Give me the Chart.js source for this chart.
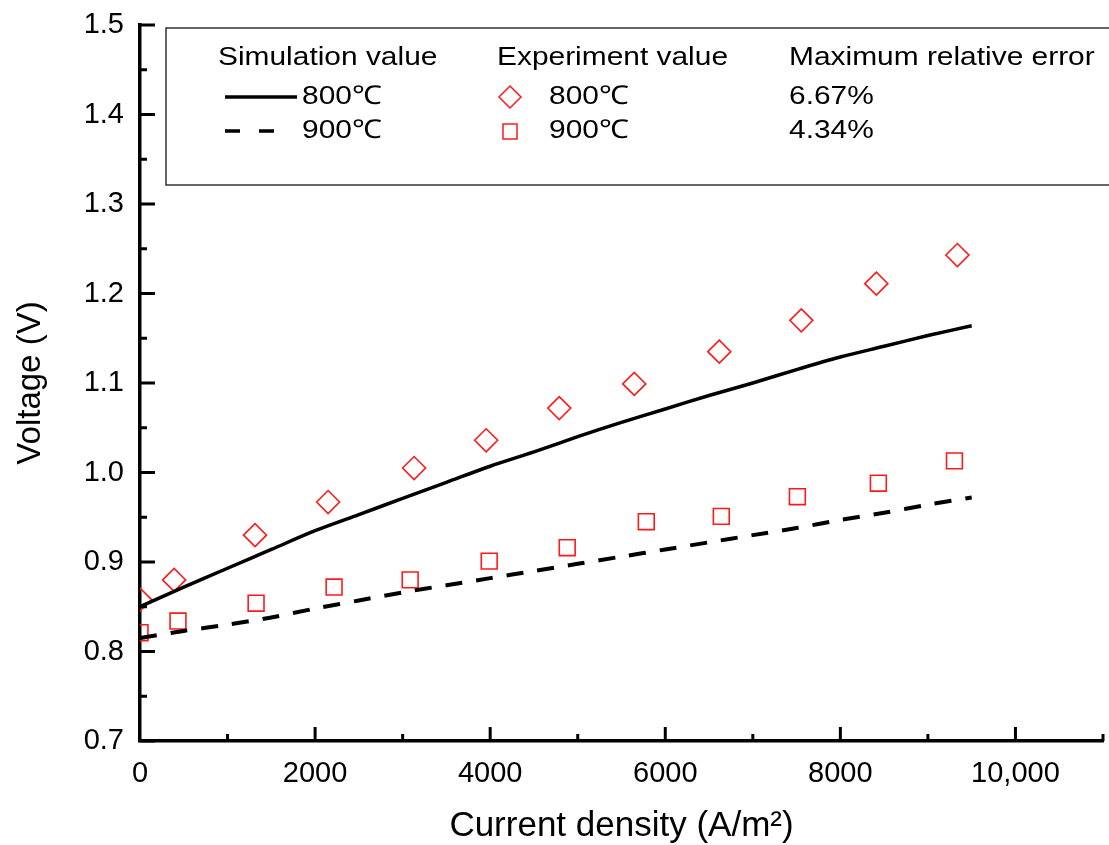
<!DOCTYPE html>
<html lang="en">
<head>
    <meta charset="UTF-8"/>
    <title>Voltage vs current density</title>
    <script src="https://cdn.jsdelivr.net/npm/chart.js"></script>
    <style>
        html, body { margin: 0; padding: 0; background: #fff; }
        #wrap { width: 1109px; height: 845px; }
    </style>
</head>
<body>
    <div id="wrap"><canvas id="ivChart" width="1109" height="845"></canvas></div>
    <script>
        // simulation curves (A/m2 -> V)
        const simCurrent = [0, 500, 1000, 1500, 2000, 2500, 3000, 3500, 4000, 4500, 5000,
                            5500, 6000, 6500, 7000, 7500, 8000, 8500, 9000, 9500];
        const sim800 = [0.850, 0.872, 0.893, 0.914, 0.935, 0.953, 0.971, 0.989, 1.007, 1.023,
                        1.040, 1.056, 1.071, 1.086, 1.100, 1.115, 1.129, 1.141, 1.153, 1.164];
        const sim900 = [0.815, 0.823, 0.830, 0.838, 0.848, 0.857, 0.866, 0.874, 0.882, 0.890,
                        0.898, 0.906, 0.914, 0.922, 0.930, 0.938, 0.947, 0.955, 0.964, 0.972];

        // experiment points
        const expCurrent800 = [0, 390, 1314, 2149, 3131, 3954, 4789, 5646, 6617, 7554, 8411, 9337];
        const exp800 = [0.858, 0.880, 0.930, 0.967, 1.005, 1.036, 1.072, 1.099, 1.135, 1.170, 1.211, 1.243];
        const expCurrent900 = [0, 434, 1326, 2217, 3086, 3989, 4880, 5783, 6640, 7509, 8434, 9303];
        const exp900 = [0.821, 0.834, 0.854, 0.872, 0.880, 0.901, 0.916, 0.945, 0.951, 0.973, 0.988, 1.013];

        const legendHead = ['Simulation value', 'Experiment value', 'Maximum relative error'];
        const tempLabels = ['800\u2103', '900\u2103'];
        const maxErrors = ['6.67%', '4.34%'];

        const pts = (xs, ys) => xs.map((x, i) => ({ x: x, y: ys[i] }));
        const RED = '#ff1a1a';
        const FONT = '"Liberation Sans", Arial, sans-serif';

        // ticks pointing inward, major + minor
        const innerTicks = {
            id: 'innerTicks',
            afterDatasetsDraw(chart) {
                const { ctx, chartArea, scales } = chart;
                ctx.save();
                ctx.strokeStyle = '#000';
                ctx.lineWidth = 3;
                for (let v = 1000; v <= 11000; v += 1000) {
                    const px = scales.x.getPixelForValue(v);
                    const len = (v % 2000 === 0) ? 14 : 7;
                    ctx.beginPath();
                    ctx.moveTo(px, chartArea.bottom);
                    ctx.lineTo(px, chartArea.bottom - len);
                    ctx.stroke();
                }
                for (let i = 0; i <= 16; i++) {
                    const v = 0.7 + i * 0.05;
                    const py = scales.y.getPixelForValue(v);
                    const len = (i % 2 === 0) ? 15 : 7;
                    ctx.beginPath();
                    ctx.moveTo(chartArea.left, py);
                    ctx.lineTo(chartArea.left + len, py);
                    ctx.stroke();
                }
                ctx.restore();
            }
        };

        // boxed three-column legend
        const boxLegend = {
            id: 'boxLegend',
            afterDraw(chart) {
                const ctx = chart.ctx;
                ctx.save();
                ctx.fillStyle = '#fff';
                ctx.fillRect(166, 28, 960, 157);
                ctx.strokeStyle = '#333';
                ctx.lineWidth = 1.5;
                ctx.strokeRect(166, 28, 960, 157);

                ctx.fillStyle = '#000';
                ctx.textBaseline = 'middle';
                const txt = (s, x, y) => {
                    ctx.save();
                    ctx.translate(x, y);
                    ctx.scale(1.15, 1);
                    ctx.fillText(s, 0, 0);
                    ctx.restore();
                };
                ctx.font = '26px ' + FONT;
                txt(legendHead[0], 218, 58);
                txt(legendHead[1], 497, 58);
                txt(legendHead[2], 789, 58);
                txt(tempLabels[0], 302, 97);
                txt(tempLabels[1], 302, 131);
                txt(tempLabels[0], 549, 97);
                txt(tempLabels[1], 549, 131);
                txt(maxErrors[0], 789, 97);
                txt(maxErrors[1], 789, 131);

                ctx.strokeStyle = '#000';
                ctx.lineWidth = 3.5;
                ctx.beginPath();
                ctx.moveTo(225, 97); ctx.lineTo(297, 97);
                ctx.moveTo(225, 131); ctx.lineTo(240, 131);
                ctx.moveTo(259, 131); ctx.lineTo(274, 131);
                ctx.stroke();

                ctx.strokeStyle = RED;
                ctx.lineWidth = 1.5;
                ctx.beginPath();
                ctx.moveTo(510, 86); ctx.lineTo(521, 97); ctx.lineTo(510, 108); ctx.lineTo(499, 97);
                ctx.closePath();
                ctx.stroke();
                ctx.strokeRect(503, 124, 14, 15);
                ctx.restore();
            }
        };

        new Chart(document.getElementById('ivChart'), {
            type: 'line',
            data: {
                datasets: [
                    {
                        label: 'Simulation 800',
                        data: pts(simCurrent, sim800),
                        borderColor: '#000', borderWidth: 3.5,
                        pointRadius: 0, tension: 0.3, clip: 0
                    },
                    {
                        label: 'Simulation 900',
                        data: pts(simCurrent, sim900),
                        borderColor: '#000', borderWidth: 4, borderDash: [17, 14],
                        pointRadius: 0, tension: 0.3, clip: 0
                    },
                    {
                        label: 'Experiment 800',
                        data: pts(expCurrent800, exp800),
                        showLine: false, pointStyle: 'rectRot', pointRadius: 11.5,
                        pointBorderColor: RED, pointBackgroundColor: 'rgba(0,0,0,0)',
                        pointBorderWidth: 1.6, clip: 0
                    },
                    {
                        label: 'Experiment 900',
                        data: pts(expCurrent900, exp900),
                        showLine: false, pointStyle: 'rect', pointRadius: 11.2,
                        pointBorderColor: RED, pointBackgroundColor: 'rgba(0,0,0,0)',
                        pointBorderWidth: 1.6, clip: 0
                    }
                ]
            },
            options: {
                responsive: false,
                animation: false,
                layout: { autoPadding: false, padding: { top: 25, right: 6, left: 0, bottom: 0 } },
                plugins: {
                    legend: { display: false },
                    tooltip: { enabled: false }
                },
                scales: {
                    x: {
                        type: 'linear', min: 0, max: 11000,
                        grid: { display: false, drawTicks: false },
                        border: { display: true, color: '#000', width: 3.5 },
                        ticks: {
                            stepSize: 1000, autoSkip: false, maxRotation: 0,
                            padding: 16, color: '#000',
                            font: { family: FONT, size: 29 },
                            callback: v => (v % 2000 === 0 && v <= 10000) ? (v === 10000 ? '10,000' : String(v)) : ''
                        },
                        title: {
                            display: true, text: 'Current density (A/m\u00b2)', color: '#000',
                            font: { family: FONT, size: 35, lineHeight: 1 },
                            padding: { top: 0, bottom: 1 }
                        },
                        afterFit: s => {
                            s.height = 104;
                            s.paddingLeft = 0;
                            s.paddingRight = 0;
                        }
                    },
                    y: {
                        type: 'linear', min: 0.7, max: 1.5,
                        grid: { display: false, drawTicks: false },
                        border: { display: true, color: '#000', width: 3.5 },
                        ticks: {
                            stepSize: 0.1, padding: 16, color: '#000',
                            font: { family: FONT, size: 29 },
                            callback: v => v.toFixed(1)
                        },
                        title: {
                            display: true, text: 'Voltage (V)', color: '#000',
                            font: { family: FONT, size: 33, lineHeight: 1 },
                            padding: { top: 14, bottom: 0 }
                        },
                        afterFit: s => {
                            s.width = 140;
                            s.paddingTop = 0;
                            s.paddingBottom = 0;
                        }
                    }
                }
            },
            plugins: [innerTicks, boxLegend]
        });
    </script>
</body>
</html>
